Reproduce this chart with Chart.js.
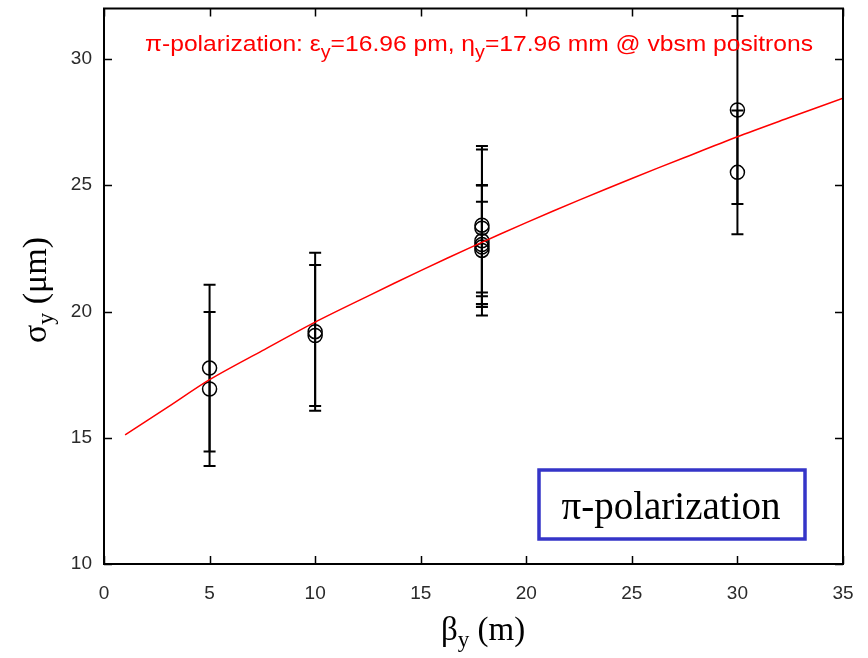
<!DOCTYPE html>
<html>
<head>
<meta charset="utf-8">
<title>sigma_y vs beta_y</title>
<script src="https://cdn.jsdelivr.net/npm/chart.js@4/dist/chart.umd.min.js"></script>
<style>
  html, body { margin: 0; padding: 0; background: #fff; }
  canvas { display: block; }
</style>
</head>
<body>
<canvas id="sigmaChart" width="868" height="658"></canvas>
<script>
// measured beam sizes (um) at each beta (m), with symmetric errors
const betaPts  = [5, 5, 10, 10, 17.9, 17.9, 17.9, 17.9, 17.9, 17.9, 30, 30];
const sigmaPts = [17.76, 16.93, 19.2, 19.05, 23.42, 23.3, 22.8, 22.65, 22.55, 22.42, 27.98, 25.51];
const sigmaErr = [3.3, 3.05, 3.13, 2.79, 3.13, 3.12, 2.2, 2.35, 1.8, 2.58, 3.72, 2.45];

// fitted curve
const fitBeta  = [1, 3, 5, 7.5, 10, 12.5, 15, 17.5, 20, 22.5, 25, 27.5, 30, 32.5, 35];
const fitSigma = [15.11, 16.2, 17.3, 18.45, 19.58, 20.61, 21.62, 22.59, 23.52, 24.41, 25.27, 26.1, 26.92, 27.69, 28.45];

const xTicks = [0, 5, 10, 15, 20, 25, 30, 35];
const yTicks = [10, 15, 20, 25, 30];

document.addEventListener('DOMContentLoaded', () => {
    const ctx = document.getElementById('sigmaChart').getContext('2d');

    const errorBars = {
        id: 'errorBars',
        beforeDatasetsDraw(chart) {
            const c = chart.ctx;
            const xs = chart.scales.x, ys = chart.scales.y;
            c.save();
            c.strokeStyle = '#000';
            c.lineWidth = 2;
            for (let i = 0; i < betaPts.length; i++) {
                const px = xs.getPixelForValue(betaPts[i]);
                const top = ys.getPixelForValue(sigmaPts[i] + sigmaErr[i]);
                const bot = ys.getPixelForValue(sigmaPts[i] - sigmaErr[i]);
                c.beginPath();
                c.moveTo(px, top); c.lineTo(px, bot);
                c.moveTo(px - 6, top); c.lineTo(px + 6, top);
                c.moveTo(px - 6, bot); c.lineTo(px + 6, bot);
                c.stroke();
            }
            c.restore();
        }
    };

    // box round the axes with inward tick marks on all sides
    const frame = {
        id: 'frame',
        afterDraw(chart) {
            const c = chart.ctx;
            const a = chart.chartArea;
            const xs = chart.scales.x, ys = chart.scales.y;
            c.save();
            c.strokeStyle = '#000';
            c.lineWidth = 2;
            c.strokeRect(a.left, a.top, a.right - a.left, a.bottom - a.top);
            c.lineWidth = 1.5;
            c.beginPath();
            xTicks.forEach(v => {
                const px = Math.round(xs.getPixelForValue(v)) + 0.5;
                c.moveTo(px, a.bottom); c.lineTo(px, a.bottom - 8);
                c.moveTo(px, a.top); c.lineTo(px, a.top + 8);
            });
            yTicks.forEach(v => {
                const py = Math.round(ys.getPixelForValue(v)) + 0.5;
                c.moveTo(a.left, py); c.lineTo(a.left + 8, py);
                c.moveTo(a.right, py); c.lineTo(a.right - 8, py);
            });
            c.stroke();
            c.restore();
        }
    };

    // draws a run of text pieces, some of them subscripted
    function drawRuns(c, runs, x, y, size, family, color, sub, scaleX) {
        c.save();
        c.fillStyle = color;
        c.textBaseline = 'alphabetic';
        c.textAlign = 'left';
        c.translate(x, y);
        c.scale(scaleX, 1);
        let cx = 0;
        runs.forEach(r => {
            const s = r.sub ? size * sub.size : size;
            c.font = s + 'px ' + family;
            c.fillText(r.t, cx, r.sub ? size * sub.drop : 0);
            cx += c.measureText(r.t).width;
        });
        c.restore();
    }

    function runsWidth(c, runs, size, family, sub) {
        let w = 0;
        runs.forEach(r => {
            c.font = (r.sub ? size * sub.size : size) + 'px ' + family;
            w += c.measureText(r.t).width;
        });
        return w;
    }

    const labels = {
        id: 'labels',
        afterDraw(chart) {
            const c = chart.ctx;
            const serif = '"Liberation Serif", "Times New Roman", serif';
            const sans = '"Liberation Sans", Arial, sans-serif';

            // red fit annotation, squeezed to its narrow width
            const titleRuns = [
                { t: '\u03c0-polarization: \u03b5' }, { t: 'y', sub: true },
                { t: '=16.96 pm, \u03b7' }, { t: 'y', sub: true },
                { t: '=17.96 mm @ vbsm positrons' }
            ];
            const tsub = { size: 0.8, drop: 0.3 };
            const tw = runsWidth(c, titleRuns, 22, sans, tsub);
            drawRuns(c, titleRuns, 145, 51, 22, sans, '#ff0000', tsub, 668 / tw);

            // x axis title
            const xsub = { size: 0.7, drop: 0.22 };
            const xRuns = [{ t: '\u03b2' }, { t: 'y', sub: true }, { t: ' (m)' }];
            const xw = runsWidth(c, xRuns, 33, serif, xsub);
            drawRuns(c, xRuns, 483 - xw / 2, 640, 33, serif, '#000', xsub, 1);

            // y axis title, rotated
            const yRuns = [{ t: '\u03c3' }, { t: 'y', sub: true }, { t: ' (\u03bcm)' }];
            const yw = runsWidth(c, yRuns, 34, serif, xsub);
            c.save();
            c.translate(46, 290);
            c.rotate(-Math.PI / 2);
            drawRuns(c, yRuns, -yw / 2, 0, 34, serif, '#000', xsub, 1);
            c.restore();

            // boxed label
            c.save();
            c.fillStyle = '#fff';
            c.fillRect(539, 470, 266, 69);
            c.strokeStyle = '#3535c8';
            c.lineWidth = 3.5;
            c.strokeRect(539, 470, 266, 69);
            c.fillStyle = '#000';
            c.font = '39px ' + serif;
            c.textAlign = 'center';
            c.textBaseline = 'alphabetic';
            c.fillText('\u03c0-polarization', 671, 519);
            c.restore();
        }
    };

    const fitPoints = fitBeta.map((b, i) => ({ x: b, y: fitSigma[i] }));
    const measured = betaPts.map((b, i) => ({ x: b, y: sigmaPts[i] }));

    // fixed axis sizes so the plot box lands where it should
    const noPad = s => { s.paddingTop = 0; s.paddingBottom = 0; s.paddingLeft = 0; s.paddingRight = 0; };

    new Chart(ctx, {
        type: 'scatter',
        data: {
            datasets: [{
                label: 'fit',
                data: fitPoints,
                showLine: true,
                borderColor: '#ff0000',
                borderWidth: 1.5,
                pointRadius: 0,
                tension: 0.3,
                fill: false
            }, {
                label: 'measured',
                data: measured,
                pointStyle: 'circle',
                pointRadius: 7,
                pointBorderWidth: 1.5,
                borderColor: '#000',
                backgroundColor: 'rgba(0,0,0,0)'
            }]
        },
        options: {
            responsive: false,
            animation: false,
            events: [],
            layout: { padding: { left: 0, top: 8, right: 25, bottom: 0 } },
            plugins: {
                legend: { display: false },
                tooltip: { enabled: false }
            },
            scales: {
                x: {
                    type: 'linear',
                    min: 0,
                    max: 35,
                    afterBuildTicks: s => { s.ticks = xTicks.map(v => ({ value: v })); },
                    afterFit: s => { s.height = 94; noPad(s); },
                    grid: { display: false, drawTicks: false },
                    border: { display: false },
                    ticks: {
                        color: '#2a2a2a',
                        padding: 18,
                        maxRotation: 0,
                        font: { family: '"Liberation Sans", Arial, sans-serif', size: 19 }
                    }
                },
                y: {
                    type: 'linear',
                    min: 10,
                    max: 32,
                    afterBuildTicks: s => { s.ticks = yTicks.map(v => ({ value: v })); },
                    afterFit: s => { s.width = 104; noPad(s); },
                    grid: { display: false, drawTicks: false },
                    border: { display: false },
                    ticks: {
                        color: '#2a2a2a',
                        padding: 12,
                        font: { family: '"Liberation Sans", Arial, sans-serif', size: 19 }
                    }
                }
            }
        },
        plugins: [errorBars, frame, labels]
    });
});
</script>
</body>
</html>
